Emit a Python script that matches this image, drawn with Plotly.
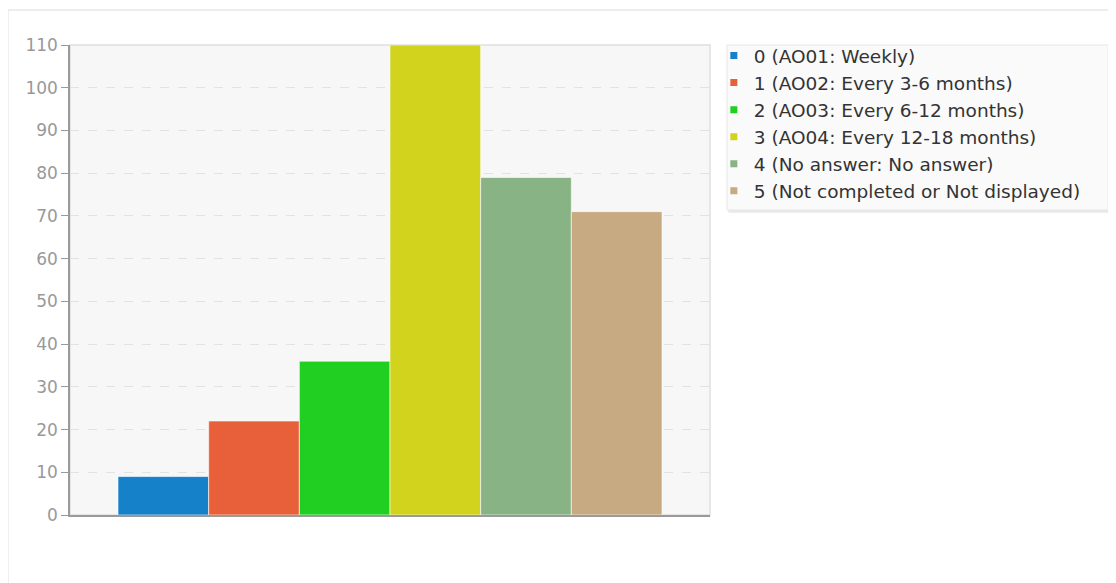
import plotly.graph_objects as go

labels = [
    "0 (AO01: Weekly)",
    "1 (AO02: Every 3-6 months)",
    "2 (AO03: Every 6-12 months)",
    "3 (AO04: Every 12-18 months)",
    "4 (No answer: No answer)",
    "5 (Not completed or Not displayed)",
]
values = [9, 22, 36, 110, 79, 71]
colors = ["#1581c9", "#e8603a", "#21cf23", "#d2d31c", "#88b385", "#c8aa82"]
category = [""]
y_ticks = list(range(0, 111, 10))

fig = go.Figure()
for i, (lab, val, col) in enumerate(zip(labels, values, colors)):
    fig.add_trace(go.Bar(
        x=category, y=[val], name=lab, showlegend=False,
        marker=dict(color=col, line=dict(color="rgba(255,255,255,0.6)", width=1)),
        hoverinfo="name+y",
    ))
for i, (lab, col) in enumerate(zip(labels, colors)):
    fig.add_trace(go.Scatter(
        x=[None], y=[None], name=lab, mode="markers", legendgroup=f"g{i}",
        marker=dict(symbol="square", size=7, color=col),
    ))

# card frame
fig.add_shape(type="rect", xref="paper", yref="paper",
              x0=-0.097, x1=1.7, y0=-0.3, y1=1.0745,
              line=dict(color="#e8e8e8", width=1.5), fillcolor="rgba(0,0,0,0)", layer="below")
# plot area frame (top/right)
fig.add_shape(type="rect", xref="paper", yref="paper", x0=0, x1=1, y0=0, y1=1,
              line=dict(color="#e0e0e0", width=1.5), layer="below")
# legend box (shadow + box)
fig.add_shape(type="rect", xref="paper", yref="paper",
              x0=1.0286, x1=1.625, y0=0.643, y1=0.997,
              line=dict(color="rgba(0,0,0,0)", width=0), fillcolor="#e9e9e9", layer="below")
fig.add_shape(type="rect", xref="paper", yref="paper",
              x0=1.0266, x1=1.622, y0=0.649, y1=1.0,
              line=dict(color="#e6e6e6", width=1), fillcolor="#fafafa", layer="below")

fig.update_layout(
    width=1116, height=583,
    margin=dict(l=62, r=414, t=37, b=76),
    paper_bgcolor="white",
    plot_bgcolor="#f7f7f7",
    barmode="group", bargap=0.15, bargroupgap=0,
    font=dict(family="DejaVu Sans", size=17, color="#333"),
    legend=dict(
        x=1.006, y=1.017, xanchor="left", yanchor="top",
        bgcolor="rgba(0,0,0,0)", borderwidth=0,
        font=dict(family="DejaVu Sans", size=18.5, color="#333"),
        tracegroupgap=0, itemwidth=30,
    ),
    xaxis=dict(showticklabels=False, showgrid=False, zeroline=False,
               showline=True, linecolor="#9a9a9a", linewidth=1.5, ticks=""),
    yaxis=dict(range=[0, 110], tickvals=y_ticks, showgrid=True,
               gridcolor="#e2e2e2", griddash="dash", gridwidth=1,
               zeroline=False, showline=True, linecolor="#9a9a9a", linewidth=1.5,
               ticks="outside", ticklen=7, tickcolor="#9a9a9a",
               tickfont=dict(family="DejaVu Sans", size=17, color="#999")),
)

fig.write_html("out.html")
